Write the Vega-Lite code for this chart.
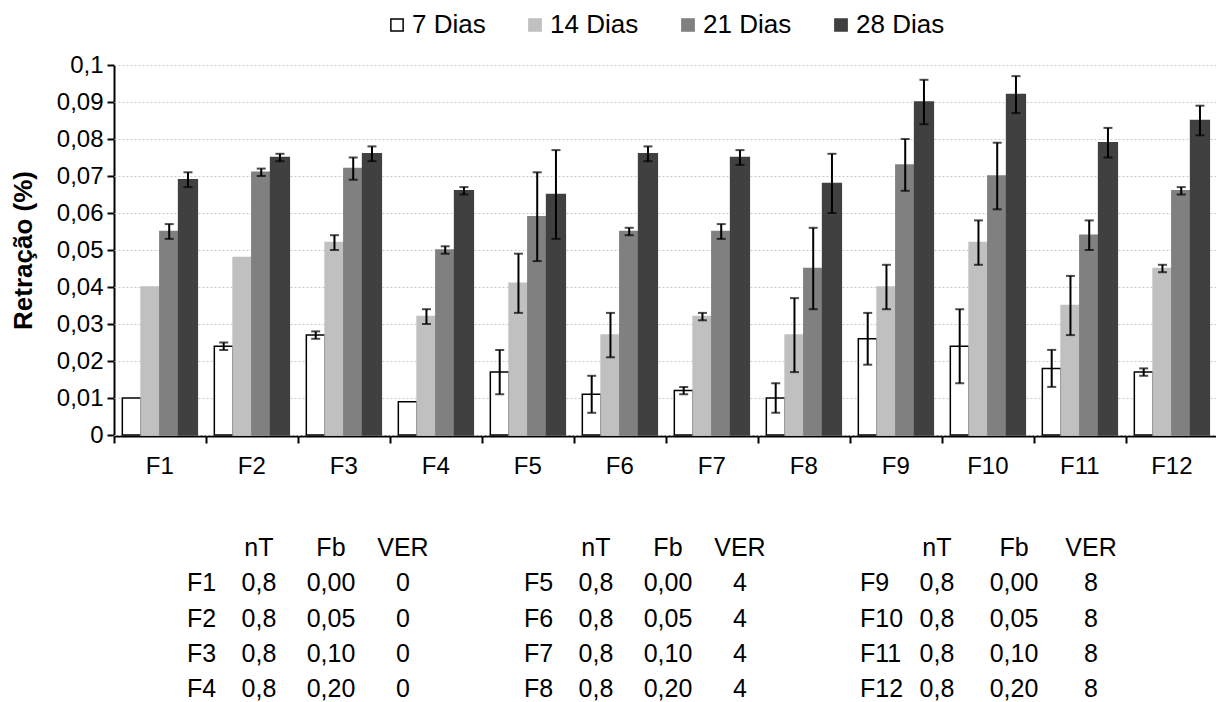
{
  "$schema": "https://vega.github.io/schema/vega-lite/v6.json",
  "background": "white",
  "padding": {"left": 10, "top": 12, "right": 3, "bottom": 0},
  "spacing": 56,
  "config": {
    "locale": {"number": {"decimal": ",", "thousands": ".", "grouping": [3], "currency": ["", ""]}},
    "font": "Liberation Sans",
    "view": {"stroke": null},
    "text": {"font": "Liberation Sans", "color": "black"}
  },
  "datasets": {
    "bars": [
      {"f": "F1", "d": "7 Dias", "v": 0.010},
      {"f": "F1", "d": "14 Dias", "v": 0.040},
      {"f": "F1", "d": "21 Dias", "v": 0.055, "lo": 0.053, "hi": 0.057},
      {"f": "F1", "d": "28 Dias", "v": 0.069, "lo": 0.067, "hi": 0.071},
      {"f": "F2", "d": "7 Dias", "v": 0.024, "lo": 0.023, "hi": 0.025},
      {"f": "F2", "d": "14 Dias", "v": 0.048},
      {"f": "F2", "d": "21 Dias", "v": 0.071, "lo": 0.070, "hi": 0.072},
      {"f": "F2", "d": "28 Dias", "v": 0.075, "lo": 0.074, "hi": 0.076},
      {"f": "F3", "d": "7 Dias", "v": 0.027, "lo": 0.026, "hi": 0.028},
      {"f": "F3", "d": "14 Dias", "v": 0.052, "lo": 0.050, "hi": 0.054},
      {"f": "F3", "d": "21 Dias", "v": 0.072, "lo": 0.069, "hi": 0.075},
      {"f": "F3", "d": "28 Dias", "v": 0.076, "lo": 0.074, "hi": 0.078},
      {"f": "F4", "d": "7 Dias", "v": 0.009},
      {"f": "F4", "d": "14 Dias", "v": 0.032, "lo": 0.030, "hi": 0.034},
      {"f": "F4", "d": "21 Dias", "v": 0.050, "lo": 0.049, "hi": 0.051},
      {"f": "F4", "d": "28 Dias", "v": 0.066, "lo": 0.065, "hi": 0.067},
      {"f": "F5", "d": "7 Dias", "v": 0.017, "lo": 0.011, "hi": 0.023},
      {"f": "F5", "d": "14 Dias", "v": 0.041, "lo": 0.033, "hi": 0.049},
      {"f": "F5", "d": "21 Dias", "v": 0.059, "lo": 0.047, "hi": 0.071},
      {"f": "F5", "d": "28 Dias", "v": 0.065, "lo": 0.053, "hi": 0.077},
      {"f": "F6", "d": "7 Dias", "v": 0.011, "lo": 0.006, "hi": 0.016},
      {"f": "F6", "d": "14 Dias", "v": 0.027, "lo": 0.021, "hi": 0.033},
      {"f": "F6", "d": "21 Dias", "v": 0.055, "lo": 0.054, "hi": 0.056},
      {"f": "F6", "d": "28 Dias", "v": 0.076, "lo": 0.074, "hi": 0.078},
      {"f": "F7", "d": "7 Dias", "v": 0.012, "lo": 0.011, "hi": 0.013},
      {"f": "F7", "d": "14 Dias", "v": 0.032, "lo": 0.031, "hi": 0.033},
      {"f": "F7", "d": "21 Dias", "v": 0.055, "lo": 0.053, "hi": 0.057},
      {"f": "F7", "d": "28 Dias", "v": 0.075, "lo": 0.073, "hi": 0.077},
      {"f": "F8", "d": "7 Dias", "v": 0.010, "lo": 0.006, "hi": 0.014},
      {"f": "F8", "d": "14 Dias", "v": 0.027, "lo": 0.017, "hi": 0.037},
      {"f": "F8", "d": "21 Dias", "v": 0.045, "lo": 0.034, "hi": 0.056},
      {"f": "F8", "d": "28 Dias", "v": 0.068, "lo": 0.060, "hi": 0.076},
      {"f": "F9", "d": "7 Dias", "v": 0.026, "lo": 0.019, "hi": 0.033},
      {"f": "F9", "d": "14 Dias", "v": 0.040, "lo": 0.034, "hi": 0.046},
      {"f": "F9", "d": "21 Dias", "v": 0.073, "lo": 0.066, "hi": 0.080},
      {"f": "F9", "d": "28 Dias", "v": 0.090, "lo": 0.084, "hi": 0.096},
      {"f": "F10", "d": "7 Dias", "v": 0.024, "lo": 0.014, "hi": 0.034},
      {"f": "F10", "d": "14 Dias", "v": 0.052, "lo": 0.046, "hi": 0.058},
      {"f": "F10", "d": "21 Dias", "v": 0.070, "lo": 0.061, "hi": 0.079},
      {"f": "F10", "d": "28 Dias", "v": 0.092, "lo": 0.087, "hi": 0.097},
      {"f": "F11", "d": "7 Dias", "v": 0.018, "lo": 0.013, "hi": 0.023},
      {"f": "F11", "d": "14 Dias", "v": 0.035, "lo": 0.027, "hi": 0.043},
      {"f": "F11", "d": "21 Dias", "v": 0.054, "lo": 0.050, "hi": 0.058},
      {"f": "F11", "d": "28 Dias", "v": 0.079, "lo": 0.075, "hi": 0.083},
      {"f": "F12", "d": "7 Dias", "v": 0.017, "lo": 0.016, "hi": 0.018},
      {"f": "F12", "d": "14 Dias", "v": 0.045, "lo": 0.044, "hi": 0.046},
      {"f": "F12", "d": "21 Dias", "v": 0.066, "lo": 0.065, "hi": 0.067},
      {"f": "F12", "d": "28 Dias", "v": 0.085, "lo": 0.081, "hi": 0.089}
    ],
    "table": [
      {"g": "G1", "c": "lab", "r": "r1", "t": "F1"},
      {"g": "G1", "c": "lab", "r": "r2", "t": "F2"},
      {"g": "G1", "c": "lab", "r": "r3", "t": "F3"},
      {"g": "G1", "c": "lab", "r": "r4", "t": "F4"},
      {"g": "G2", "c": "lab", "r": "r1", "t": "F5"},
      {"g": "G2", "c": "lab", "r": "r2", "t": "F6"},
      {"g": "G2", "c": "lab", "r": "r3", "t": "F7"},
      {"g": "G2", "c": "lab", "r": "r4", "t": "F8"},
      {"g": "G3", "c": "lab", "r": "r1", "t": "F9"},
      {"g": "G3", "c": "lab", "r": "r2", "t": "F10"},
      {"g": "G3", "c": "lab", "r": "r3", "t": "F11"},
      {"g": "G3", "c": "lab", "r": "r4", "t": "F12"},
      {"g": "G1", "c": "nT", "r": "h", "t": "nT"},
      {"g": "G1", "c": "Fb", "r": "h", "t": "Fb"},
      {"g": "G1", "c": "VER", "r": "h", "t": "VER"},
      {"g": "G1", "c": "nT", "r": "r1", "t": "0,8"},
      {"g": "G1", "c": "Fb", "r": "r1", "t": "0,00"},
      {"g": "G1", "c": "VER", "r": "r1", "t": "0"},
      {"g": "G1", "c": "nT", "r": "r2", "t": "0,8"},
      {"g": "G1", "c": "Fb", "r": "r2", "t": "0,05"},
      {"g": "G1", "c": "VER", "r": "r2", "t": "0"},
      {"g": "G1", "c": "nT", "r": "r3", "t": "0,8"},
      {"g": "G1", "c": "Fb", "r": "r3", "t": "0,10"},
      {"g": "G1", "c": "VER", "r": "r3", "t": "0"},
      {"g": "G1", "c": "nT", "r": "r4", "t": "0,8"},
      {"g": "G1", "c": "Fb", "r": "r4", "t": "0,20"},
      {"g": "G1", "c": "VER", "r": "r4", "t": "0"},
      {"g": "G2", "c": "nT", "r": "h", "t": "nT"},
      {"g": "G2", "c": "Fb", "r": "h", "t": "Fb"},
      {"g": "G2", "c": "VER", "r": "h", "t": "VER"},
      {"g": "G2", "c": "nT", "r": "r1", "t": "0,8"},
      {"g": "G2", "c": "Fb", "r": "r1", "t": "0,00"},
      {"g": "G2", "c": "VER", "r": "r1", "t": "4"},
      {"g": "G2", "c": "nT", "r": "r2", "t": "0,8"},
      {"g": "G2", "c": "Fb", "r": "r2", "t": "0,05"},
      {"g": "G2", "c": "VER", "r": "r2", "t": "4"},
      {"g": "G2", "c": "nT", "r": "r3", "t": "0,8"},
      {"g": "G2", "c": "Fb", "r": "r3", "t": "0,10"},
      {"g": "G2", "c": "VER", "r": "r3", "t": "4"},
      {"g": "G2", "c": "nT", "r": "r4", "t": "0,8"},
      {"g": "G2", "c": "Fb", "r": "r4", "t": "0,20"},
      {"g": "G2", "c": "VER", "r": "r4", "t": "4"},
      {"g": "G3", "c": "nT", "r": "h", "t": "nT"},
      {"g": "G3", "c": "Fb", "r": "h", "t": "Fb"},
      {"g": "G3", "c": "VER", "r": "h", "t": "VER"},
      {"g": "G3", "c": "nT", "r": "r1", "t": "0,8"},
      {"g": "G3", "c": "Fb", "r": "r1", "t": "0,00"},
      {"g": "G3", "c": "VER", "r": "r1", "t": "8"},
      {"g": "G3", "c": "nT", "r": "r2", "t": "0,8"},
      {"g": "G3", "c": "Fb", "r": "r2", "t": "0,05"},
      {"g": "G3", "c": "VER", "r": "r2", "t": "8"},
      {"g": "G3", "c": "nT", "r": "r3", "t": "0,8"},
      {"g": "G3", "c": "Fb", "r": "r3", "t": "0,10"},
      {"g": "G3", "c": "VER", "r": "r3", "t": "8"},
      {"g": "G3", "c": "nT", "r": "r4", "t": "0,8"},
      {"g": "G3", "c": "Fb", "r": "r4", "t": "0,20"},
      {"g": "G3", "c": "VER", "r": "r4", "t": "8"}
    ]
  },
  "vconcat": [
    {
      "data": {"name": "bars"},
      "facet": {
        "column": {
          "field": "f", "type": "nominal",
          "sort": ["F1","F2","F3","F4","F5","F6","F7","F8","F9","F10","F11","F12"],
          "title": null,
          "header": {"labelOrient": "bottom", "labelFontSize": 24, "labelColor": "black", "labelFont": "Liberation Sans", "labelPadding": 11}
        }
      },
      "spacing": 0,
      "resolve": {"scale": {"x": "shared", "y": "shared"}},
      "spec": {
        "width": 91.6667,
        "height": 370,
        "encoding": {
          "x": {
            "field": "d", "type": "nominal",
            "sort": ["7 Dias","14 Dias","21 Dias","28 Dias"],
            "scale": {"type": "band", "paddingInner": 0, "paddingOuter": 0.444},
            "axis": {
              "title": null, "labels": false, "grid": false,
              "values": ["7 Dias"], "bandPosition": 0, "tickOffset": -8.33,
              "tickSize": 7, "tickWidth": 2, "tickColor": "black",
              "domainColor": "black", "domainWidth": 2
            }
          }
        },
        "layer": [
          {
            "mark": {"type": "bar", "strokeWidth": 1.5},
            "encoding": {
              "y": {
                "field": "v", "type": "quantitative",
                "scale": {"domain": [0, 0.1], "nice": false},
                "stack": null,
                "axis": {
                  "title": "Retração (%)", "titleFontSize": 26, "titleFontWeight": "bold", "titleColor": "black",
                  "titlePadding": 20,
                  "values": [0, 0.01, 0.02, 0.03, 0.04, 0.05, 0.06, 0.07, 0.08, 0.09, 0.1],
                  "format": ".2~f", "labelFontSize": 24, "labelColor": "black", "labelPadding": 4,
                  "labelOverlap": false,
                  "tickSize": 7, "tickWidth": 2, "tickColor": "black",
                  "domainColor": "black", "domainWidth": 2,
                  "grid": true, "gridColor": "#c8c8c8", "gridDash": [2, 2], "gridWidth": 1
                }
              },
              "fill": {
                "field": "d", "type": "nominal",
                "scale": {"domain": ["7 Dias","14 Dias","21 Dias","28 Dias"], "range": ["#ffffff","#c0c0c0","#808080","#404040"]},
                "legend": {
                  "title": null, "orient": "none", "legendX": 270, "legendY": -53, "direction": "horizontal",
                  "symbolType": "square", "symbolSize": 150, "symbolStrokeWidth": 1.5,
                  "labelFontSize": 26, "labelColor": "black", "labelOffset": 2, "columnPadding": 36, "padding": 0
                }
              },
              "stroke": {
                "field": "d", "type": "nominal",
                "scale": {"domain": ["7 Dias","14 Dias","21 Dias","28 Dias"], "range": ["#000000","#c0c0c0","#808080","#404040"]},
                "legend": {
                  "title": null, "orient": "none", "legendX": 270, "legendY": -53, "direction": "horizontal",
                  "symbolType": "square", "symbolSize": 150, "symbolStrokeWidth": 1.5,
                  "labelFontSize": 26, "labelColor": "black", "labelOffset": 2, "columnPadding": 36, "padding": 0
                }
              }
            }
          },
          {
            "mark": {"type": "rule", "strokeWidth": 2, "color": "black"},
            "encoding": {
              "y": {
                "field": "lo", "type": "quantitative",
                "axis": {
                  "title": "Retração (%)", "titleFontSize": 26, "titleFontWeight": "bold", "titleColor": "black",
                  "titlePadding": 20,
                  "values": [0, 0.01, 0.02, 0.03, 0.04, 0.05, 0.06, 0.07, 0.08, 0.09, 0.1],
                  "format": ".2~f", "labelFontSize": 24, "labelColor": "black", "labelPadding": 4,
                  "labelOverlap": false,
                  "tickSize": 7, "tickWidth": 2, "tickColor": "black",
                  "domainColor": "black", "domainWidth": 2,
                  "grid": true, "gridColor": "#c8c8c8", "gridDash": [2, 2], "gridWidth": 1
                }
              },
              "y2": {"field": "hi"}
            }
          },
          {
            "mark": {"type": "tick", "thickness": 2, "size": 9, "color": "black"},
            "encoding": {
              "y": {
                "field": "lo", "type": "quantitative",
                "axis": {
                  "title": "Retração (%)", "titleFontSize": 26, "titleFontWeight": "bold", "titleColor": "black",
                  "titlePadding": 20,
                  "values": [0, 0.01, 0.02, 0.03, 0.04, 0.05, 0.06, 0.07, 0.08, 0.09, 0.1],
                  "format": ".2~f", "labelFontSize": 24, "labelColor": "black", "labelPadding": 4,
                  "labelOverlap": false,
                  "tickSize": 7, "tickWidth": 2, "tickColor": "black",
                  "domainColor": "black", "domainWidth": 2,
                  "grid": true, "gridColor": "#c8c8c8", "gridDash": [2, 2], "gridWidth": 1
                }
              }
            }
          },
          {
            "mark": {"type": "tick", "thickness": 2, "size": 9, "color": "black"},
            "encoding": {
              "y": {
                "field": "hi", "type": "quantitative",
                "axis": {
                  "title": "Retração (%)", "titleFontSize": 26, "titleFontWeight": "bold", "titleColor": "black",
                  "titlePadding": 20,
                  "values": [0, 0.01, 0.02, 0.03, 0.04, 0.05, 0.06, 0.07, 0.08, 0.09, 0.1],
                  "format": ".2~f", "labelFontSize": 24, "labelColor": "black", "labelPadding": 4,
                  "labelOverlap": false,
                  "tickSize": 7, "tickWidth": 2, "tickColor": "black",
                  "domainColor": "black", "domainWidth": 2,
                  "grid": true, "gridColor": "#c8c8c8", "gridDash": [2, 2], "gridWidth": 1
                }
              }
            }
          }
        ]
      }
    },
    {
      "data": {"name": "table"},
      "spacing": 0,
      "hconcat": [
        {
          "width": 337, "height": 163,
          "transform": [{"filter": {"field": "g", "equal": "G1"}}],
          "encoding": {
            "x": {"field": "c", "type": "nominal", "scale": {"type": "point", "domain": ["lab","nT","Fb","VER"], "padding": 0.84, "align": 0.603}, "axis": null},
            "y": {"field": "r", "type": "nominal", "scale": {"type": "point", "domain": ["h","r1","r2","r3","r4"], "padding": 0.3}, "axis": null},
            "text": {"field": "t"}
          },
          "layer": [
            {"transform": [{"filter": "datum.c == 'lab'"}], "mark": {"type": "text", "align": "left", "baseline": "middle", "fontSize": 25, "color": "black"}},
            {"transform": [{"filter": "datum.c != 'lab'"}], "mark": {"type": "text", "align": "center", "baseline": "middle", "fontSize": 25, "color": "black"}}
          ]
        },
        {
          "width": 337, "height": 163,
          "transform": [{"filter": {"field": "g", "equal": "G2"}}],
          "encoding": {
            "x": {"field": "c", "type": "nominal", "scale": {"type": "point", "domain": ["lab","nT","Fb","VER"], "padding": 0.84, "align": 0.603}, "axis": null},
            "y": {"field": "r", "type": "nominal", "scale": {"type": "point", "domain": ["h","r1","r2","r3","r4"], "padding": 0.3}, "axis": null},
            "text": {"field": "t"}
          },
          "layer": [
            {"transform": [{"filter": "datum.c == 'lab'"}], "mark": {"type": "text", "align": "left", "baseline": "middle", "fontSize": 25, "color": "black"}},
            {"transform": [{"filter": "datum.c != 'lab'"}], "mark": {"type": "text", "align": "center", "baseline": "middle", "fontSize": 25, "color": "black"}}
          ]
        },
        {
          "width": 337, "height": 163,
          "transform": [{"filter": {"field": "g", "equal": "G3"}}],
          "encoding": {
            "x": {"field": "c", "type": "nominal", "scale": {"type": "point", "domain": ["lab","nT","Fb","VER"], "padding": 0.688, "align": 0.679}, "axis": null},
            "y": {"field": "r", "type": "nominal", "scale": {"type": "point", "domain": ["h","r1","r2","r3","r4"], "padding": 0.3}, "axis": null},
            "text": {"field": "t"}
          },
          "layer": [
            {"transform": [{"filter": "datum.c == 'lab'"}], "mark": {"type": "text", "align": "left", "baseline": "middle", "fontSize": 25, "color": "black"}},
            {"transform": [{"filter": "datum.c != 'lab'"}], "mark": {"type": "text", "align": "center", "baseline": "middle", "fontSize": 25, "color": "black"}}
          ]
        }
      ]
    }
  ]
}
